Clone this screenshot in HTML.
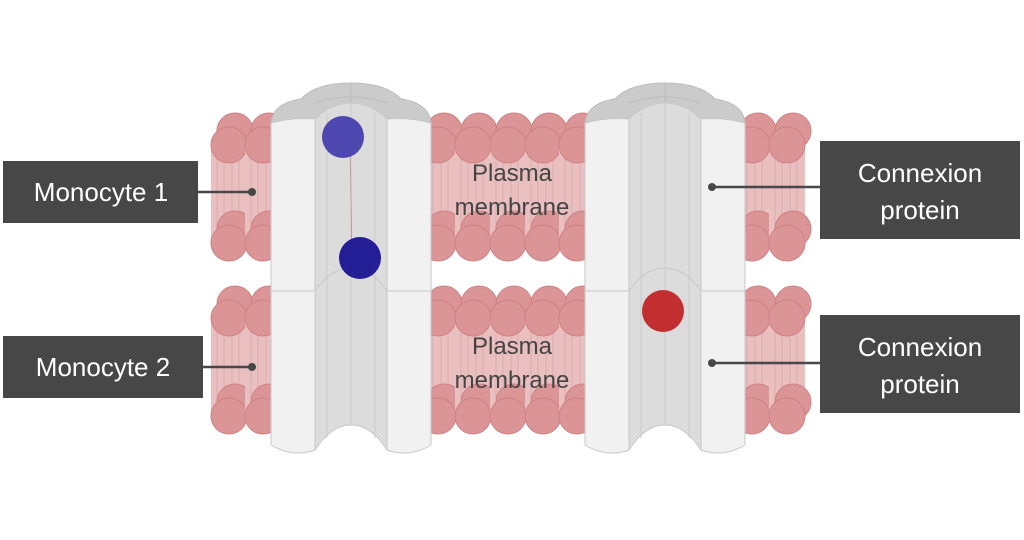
<!DOCTYPE html>
<html><head><meta charset="utf-8"><style>
html,body{margin:0;padding:0;background:#fff;width:1024px;height:540px;overflow:hidden}
svg{display:block}
text{font-family:"Liberation Sans",sans-serif}
</style></head><body>
<svg width="1024" height="540" viewBox="0 0 1024 540" xmlns="http://www.w3.org/2000/svg">
<defs>
<g id="col">
  <rect x="-18" y="0" width="36" height="100" fill="#e9bfc0"/>
  <path d="M-12 10 V90 M-5 10 V90 M3 10 V90 M10 10 V90" stroke="#dcaeb0" stroke-width="1"/>
  <circle cx="6" cy="-14" r="18" fill="#dc9597" stroke="#cf8183"/>
  <circle cx="0" cy="0" r="18" fill="#dc9597" stroke="#cf8183"/>
  <circle cx="6" cy="84" r="18" fill="#dc9597" stroke="#cf8183"/>
  <circle cx="0" cy="98" r="18" fill="#dc9597" stroke="#cf8183"/>
</g>
<g id="chan">
  <path d="M0 40 Q2 20 30 16 Q45 0 80 0 Q115 0 130 16 Q158 20 160 40 Z" fill="#cbcbcb" stroke="#bdbdbd"/>
  <path d="M44 20 Q80 8 116 20" fill="none" stroke="#bdbdbd"/>
  <path d="M80 0 V20" stroke="#bdbdbd"/>
  <path d="M0 40 Q22 34 44 36 V367 Q22 375 0 362 Z" fill="#f1f1f1" stroke="#c8c8c8"/>
  <path d="M116 36 Q138 34 160 40 V362 Q138 375 116 367 Z" fill="#f1f1f1" stroke="#c8c8c8"/>
  <path d="M44 36 Q60 20 80 20 Q100 20 116 36 V367 Q100 342 80 342 Q60 342 44 367 Z" fill="#dcdcdc" stroke="#c8c8c8"/>
  <path d="M56 30 V355 M104 30 V355 M80 20 V342" stroke="#cdcdcd" fill="none"/>
  <path d="M0 208 H44 Q60 185 80 185 Q100 185 116 208 H160" stroke="#c8c8c8" fill="none"/>
</g>
</defs>
<g transform="translate(0,145)"><use href="#col" x="229"/><use href="#col" x="263"/></g>
<g transform="translate(0,318)"><use href="#col" x="229"/><use href="#col" x="263"/></g>
<g transform="translate(0,145)"><use href="#col" x="438"/><use href="#col" x="473"/><use href="#col" x="508"/><use href="#col" x="543"/><use href="#col" x="577"/></g>
<g transform="translate(0,318)"><use href="#col" x="438"/><use href="#col" x="473"/><use href="#col" x="508"/><use href="#col" x="543"/><use href="#col" x="577"/></g>
<g transform="translate(0,145)"><use href="#col" x="752"/><use href="#col" x="787"/></g>
<g transform="translate(0,318)"><use href="#col" x="752"/><use href="#col" x="787"/></g>
<use href="#chan" transform="translate(271,83)"/>
<use href="#chan" transform="translate(585,83)"/>
<line x1="350" y1="140" x2="352" y2="258" stroke="#c99" stroke-width="1"/>
<circle cx="343" cy="137" r="21" fill="#4f47b0"/>
<circle cx="360" cy="258" r="21" fill="#231e96"/>
<circle cx="663" cy="311" r="21" fill="#c32f30"/>
<g fill="#444" font-size="24" text-anchor="middle">
<text x="512" y="181">Plasma</text><text x="512" y="215">membrane</text>
<text x="512" y="354">Plasma</text><text x="512" y="388">membrane</text>
</g>
<g fill="#474747">
<rect x="3" y="161" width="195" height="62"/>
<rect x="3" y="336" width="200" height="62"/>
<rect x="820" y="141" width="200" height="98"/>
<rect x="820" y="315" width="200" height="98"/>
</g>
<g stroke="#474747" stroke-width="2.5">
<line x1="198" y1="192" x2="252" y2="192"/>
<line x1="203" y1="367" x2="252" y2="367"/>
<line x1="712" y1="187" x2="820" y2="187"/>
<line x1="712" y1="363" x2="820" y2="363"/>
</g>
<g fill="#474747">
<circle cx="252" cy="192" r="4"/><circle cx="252" cy="367" r="4"/>
<circle cx="712" cy="187" r="4"/><circle cx="712" cy="363" r="4"/>
</g>
<g fill="#fff" font-size="26" text-anchor="middle">
<text x="101" y="201">Monocyte 1</text>
<text x="103" y="376">Monocyte 2</text>
<text x="920" y="182">Connexion</text><text x="920" y="219">protein</text>
<text x="920" y="356">Connexion</text><text x="920" y="393">protein</text>
</g>
</svg>
</body></html>
